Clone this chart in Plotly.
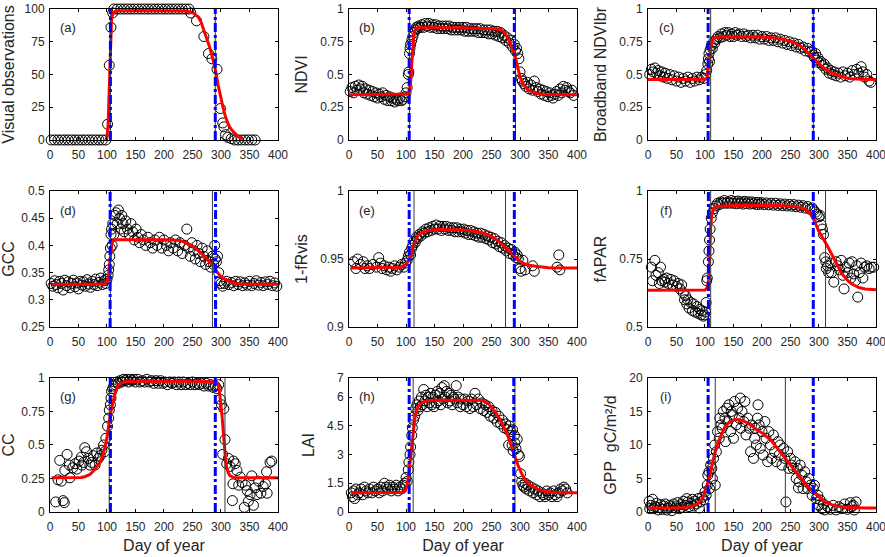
import plotly.graph_objects as go

# ---------------- categories / tick labels ----------------
DAY_TICKS = [0, 50, 100, 150, 200, 250, 300, 350, 400]
PANEL_TAGS = ["(a)", "(b)", "(c)", "(d)", "(e)", "(f)", "(g)", "(h)", "(i)"]
Y_TITLES = ["Visual observations", "NDVI", "Broadband NDVIbr", "GCC", "1-fRvis",
            "fAPAR", "CC", "LAI", "GPP  gC/m²/d"]
Y_RANGES = [[0, 100], [0, 1], [0, 1], [0.25, 0.5], [0.9, 1], [0.5, 1], [0, 1], [0, 7], [0, 20]]
Y_TICKVALS = [[0, 25, 50, 75, 100], [0, 0.25, 0.5, 0.75, 1], [0, 0.25, 0.5, 0.75, 1],
              [0.25, 0.3, 0.35, 0.4, 0.45, 0.5], [0.9, 0.95, 1], [0.5, 0.75, 1],
              [0, 0.25, 0.5, 0.75, 1], [0, 1.5, 3, 4.5, 6, 7], [0, 5, 10, 15, 20]]
Y_TICKTEXT = [["0", "25", "50", "75", "100"], ["0", "0.25", "0.5", "0.75", "1"],
              ["0", "0.25", "0.5", "0.75", "1"], ["0.25", "0.3", "0.35", "0.4", "0.45", "0.5"],
              ["0.9", "0.95", "1"], ["0.5", "0.75", "1"], ["0", "0.25", "0.5", "0.75", "1"],
              ["0", "1.5", "3", "4.5", "6", "7"], ["0", "5", "10", "15", "20"]]

# ---------------- transition dates (day of year) ----------------
BLUE_SOS = [106, 105.5, 105.5, 105.5, 105.5, 106, 106, 105.5, 105.5]
BLUE_EOS = [290, 290, 290, 290.5, 290, 290, 290, 289, 290]
BLACK_SOS = [106, 106, 110, 106, 114, 110, 104, 112.5, 118]
BLACK_EOS = [290, 292, 290, 285, 274.5, 311.5, 307, 291, 241]

# ---------------- observations (day, value) ----------------
a_obs = [(2, 0), (8, 0), (14, 0), (20, 0), (26, 0), (32, 0), (38, 0), (44, 0), (50, 0), (56, 0),
         (62, 0), (68, 0), (74, 0), (80, 0), (86, 0), (92, 0), (98, 0),
         (101, 12), (104, 57), (107, 86), (110, 97),
         (112, 100), (118, 100), (124, 100), (130, 100), (136, 100), (142, 100), (148, 100),
         (154, 100), (160, 100), (166, 100), (172, 100), (178, 100), (184, 100), (190, 100),
         (196, 100), (202, 100), (208, 100), (214, 100), (220, 100), (226, 100), (232, 100),
         (238, 100), (244, 100),
         (247, 97), (257, 91), (270, 79), (278, 66), (284, 62), (293, 54), (299, 24), (303, 13),
         (305, 10), (308, 4), (312, 2), (318, 1), (324, 0), (330, 0), (336, 0), (342, 0),
         (348, 0), (354, 0), (360, 0)]

b_obs = [(2, 0.37), (5, 0.40), (8, 0.36), (11, 0.41), (14, 0.38), (17, 0.42), (20, 0.39), (23, 0.41),
         (26, 0.36), (29, 0.39), (32, 0.35), (35, 0.38), (38, 0.34), (41, 0.37), (44, 0.33), (47, 0.36),
         (50, 0.32), (53, 0.35), (56, 0.33), (59, 0.36), (62, 0.31), (65, 0.34), (68, 0.30), (71, 0.33),
         (74, 0.30), (77, 0.32), (80, 0.29), (83, 0.31), (86, 0.30), (89, 0.32), (92, 0.30), (95, 0.31),
         (98, 0.33), (100, 0.36), (102, 0.40), (104, 0.50), (105, 0.52), (106, 0.66), (107, 0.70),
         (108, 0.73), (110, 0.76), (112, 0.79), (114, 0.82), (116, 0.84), (118, 0.86), (120, 0.85),
         (122, 0.87), (125, 0.86), (128, 0.88), (131, 0.86), (134, 0.89), (137, 0.87), (140, 0.89),
         (143, 0.86), (146, 0.88), (149, 0.86), (152, 0.88), (155, 0.85), (158, 0.87), (161, 0.85),
         (164, 0.87), (167, 0.85), (170, 0.87), (173, 0.85), (176, 0.87), (179, 0.84), (182, 0.86),
         (185, 0.84), (188, 0.86), (191, 0.84), (194, 0.86), (197, 0.84), (200, 0.86), (203, 0.83),
         (206, 0.86), (209, 0.83), (212, 0.85), (215, 0.83), (218, 0.85), (221, 0.83), (224, 0.85),
         (227, 0.82), (230, 0.85), (233, 0.82), (236, 0.84), (239, 0.82), (242, 0.84), (245, 0.81),
         (248, 0.84), (251, 0.81), (254, 0.83), (257, 0.80), (260, 0.83), (263, 0.79), (266, 0.82),
         (269, 0.78), (272, 0.80), (275, 0.76), (278, 0.78), (281, 0.74), (284, 0.76), (287, 0.71),
         (290, 0.73), (292, 0.68), (294, 0.70), (296, 0.66), (298, 0.62), (300, 0.52), (302, 0.47),
         (304, 0.45), (307, 0.43), (310, 0.41), (313, 0.44), (316, 0.39), (319, 0.42), (322, 0.38),
         (325, 0.45), (328, 0.40), (331, 0.37), (334, 0.39), (337, 0.35), (340, 0.38), (343, 0.34),
         (346, 0.37), (349, 0.33), (352, 0.36), (355, 0.34), (358, 0.32), (361, 0.35), (364, 0.37),
         (367, 0.34), (370, 0.39), (373, 0.36), (376, 0.41), (379, 0.38), (382, 0.40), (385, 0.37),
         (388, 0.36), (391, 0.38), (394, 0.34)]

c_obs = [(3, 0.50), (6, 0.54), (9, 0.52), (12, 0.55), (15, 0.51), (18, 0.53), (21, 0.49), (24, 0.52),
         (27, 0.48), (30, 0.51), (34, 0.47), (38, 0.50), (42, 0.46), (46, 0.49), (50, 0.45), (54, 0.48),
         (58, 0.44), (62, 0.47), (66, 0.45), (70, 0.48), (74, 0.44), (78, 0.47), (82, 0.45), (86, 0.48),
         (90, 0.46), (94, 0.48), (98, 0.47), (101, 0.50), (103, 0.53), (105, 0.58), (106, 0.62),
         (107, 0.66), (108, 0.60), (109, 0.69), (111, 0.72), (113, 0.70), (115, 0.75), (117, 0.74),
         (120, 0.77), (123, 0.79), (126, 0.78), (129, 0.81), (132, 0.79), (135, 0.82), (138, 0.80),
         (141, 0.82), (144, 0.79), (147, 0.81), (150, 0.79), (153, 0.82), (156, 0.80), (160, 0.81),
         (164, 0.79), (168, 0.81), (172, 0.79), (176, 0.80), (180, 0.78), (184, 0.80), (188, 0.78),
         (192, 0.80), (196, 0.77), (200, 0.79), (204, 0.77), (208, 0.79), (212, 0.76), (216, 0.78),
         (220, 0.76), (224, 0.78), (228, 0.75), (232, 0.77), (236, 0.74), (240, 0.76), (244, 0.73),
         (248, 0.75), (252, 0.72), (256, 0.74), (260, 0.71), (264, 0.73), (268, 0.70), (272, 0.71),
         (276, 0.68), (280, 0.70), (284, 0.67), (287, 0.68), (290, 0.65), (292, 0.63), (294, 0.66),
         (296, 0.61), (298, 0.63), (300, 0.59), (303, 0.60), (306, 0.57), (309, 0.58), (312, 0.54),
         (315, 0.55), (318, 0.51), (321, 0.53), (324, 0.50), (327, 0.52), (330, 0.49), (334, 0.51),
         (338, 0.48), (342, 0.52), (346, 0.49), (350, 0.51), (354, 0.48), (358, 0.53), (362, 0.50),
         (366, 0.54), (370, 0.51), (374, 0.56), (377, 0.52), (380, 0.48), (384, 0.50), (388, 0.45),
         (391, 0.44)]

d_obs = [(2, 0.330), (5, 0.325), (8, 0.335), (11, 0.328), (14, 0.322), (17, 0.334), (20, 0.330),
         (23, 0.318), (26, 0.336), (29, 0.326), (32, 0.333), (35, 0.322), (38, 0.330), (41, 0.336),
         (44, 0.324), (47, 0.331), (50, 0.320), (53, 0.334), (56, 0.327), (59, 0.333), (62, 0.325),
         (65, 0.337), (68, 0.329), (71, 0.323), (74, 0.334), (77, 0.328), (80, 0.338), (83, 0.326),
         (86, 0.332), (89, 0.340), (92, 0.328), (95, 0.335), (98, 0.330), (100, 0.338), (102, 0.345),
         (103, 0.355), (104, 0.365), (105, 0.380), (106, 0.395), (107, 0.42), (108, 0.43), (109, 0.40),
         (110, 0.44), (112, 0.42), (114, 0.455), (116, 0.46), (118, 0.44), (120, 0.465), (122, 0.45),
         (124, 0.43), (126, 0.455), (128, 0.44), (130, 0.425), (133, 0.445), (136, 0.43), (139, 0.42),
         (142, 0.44), (145, 0.425), (148, 0.41), (151, 0.43), (154, 0.415), (157, 0.405), (160, 0.42),
         (164, 0.41), (168, 0.40), (172, 0.415), (176, 0.405), (180, 0.395), (184, 0.41), (188, 0.40),
         (192, 0.415), (196, 0.395), (200, 0.41), (204, 0.40), (208, 0.39), (212, 0.405), (216, 0.395),
         (220, 0.41), (224, 0.39), (228, 0.405), (232, 0.385), (236, 0.40), (240, 0.43), (243, 0.395),
         (246, 0.38), (249, 0.405), (252, 0.39), (255, 0.375), (258, 0.40), (261, 0.385), (264, 0.37),
         (267, 0.395), (270, 0.38), (273, 0.365), (276, 0.39), (279, 0.37), (282, 0.36), (285, 0.38),
         (287, 0.365), (289, 0.40), (290, 0.375), (292, 0.37), (294, 0.38), (296, 0.35), (298, 0.335),
         (300, 0.33), (303, 0.325), (306, 0.33), (310, 0.334), (314, 0.328), (318, 0.332), (322, 0.326),
         (326, 0.334), (330, 0.328), (334, 0.333), (338, 0.326), (342, 0.331), (346, 0.327),
         (350, 0.334), (354, 0.326), (358, 0.330), (362, 0.335), (366, 0.327), (370, 0.332),
         (374, 0.326), (378, 0.333), (382, 0.328), (386, 0.334), (390, 0.326), (394, 0.331),
         (398, 0.325)]

e_obs = [(8, 0.948), (12, 0.943), (15, 0.950), (20, 0.946), (25, 0.948), (28, 0.943), (32, 0.945),
         (36, 0.943), (42, 0.946), (48, 0.944), (52, 0.951), (55, 0.947), (58, 0.943), (62, 0.945),
         (66, 0.942), (70, 0.944), (73, 0.941), (76, 0.943), (80, 0.945), (84, 0.942), (88, 0.944),
         (92, 0.946), (96, 0.944), (99, 0.947), (102, 0.949), (104, 0.952), (106, 0.955), (108, 0.953),
         (110, 0.958), (112, 0.960), (114, 0.963), (116, 0.962), (118, 0.966), (120, 0.965),
         (123, 0.968), (126, 0.967), (129, 0.970), (132, 0.969), (135, 0.972), (138, 0.970),
         (141, 0.973), (144, 0.971), (147, 0.974), (150, 0.972), (153, 0.975), (156, 0.972),
         (159, 0.974), (162, 0.971), (165, 0.974), (168, 0.972), (171, 0.974), (174, 0.971),
         (177, 0.973), (180, 0.971), (183, 0.973), (186, 0.970), (189, 0.973), (192, 0.970),
         (195, 0.972), (198, 0.970), (201, 0.972), (204, 0.969), (207, 0.971), (210, 0.968),
         (213, 0.971), (216, 0.968), (219, 0.970), (222, 0.967), (225, 0.969), (228, 0.966),
         (231, 0.969), (234, 0.966), (237, 0.968), (240, 0.965), (243, 0.967), (246, 0.964),
         (249, 0.966), (252, 0.962), (255, 0.965), (258, 0.961), (261, 0.963), (264, 0.959),
         (267, 0.962), (270, 0.958), (273, 0.960), (276, 0.956), (279, 0.958), (282, 0.954),
         (285, 0.957), (288, 0.953), (291, 0.955), (293, 0.951), (295, 0.953), (297, 0.950),
         (300, 0.943), (302, 0.941), (305, 0.949), (309, 0.942), (322, 0.945), (325, 0.941),
         (365, 0.944), (368, 0.953), (370, 0.942)]

f_obs = [(6, 0.72), (8, 0.67), (12, 0.745), (14, 0.69), (18, 0.70), (20, 0.66), (22, 0.72), (24, 0.67),
         (28, 0.675), (30, 0.665), (33, 0.68), (36, 0.66), (40, 0.675), (43, 0.655), (46, 0.67),
         (50, 0.65), (53, 0.66), (56, 0.64), (59, 0.655), (62, 0.625), (64, 0.60), (66, 0.615),
         (68, 0.585), (70, 0.60), (72, 0.57), (75, 0.59), (78, 0.56), (80, 0.585), (83, 0.555),
         (86, 0.575), (88, 0.55), (91, 0.565), (93, 0.545), (95, 0.56), (97, 0.54), (99, 0.545),
         (101, 0.555), (102, 0.59), (103, 0.67), (104, 0.68), (106, 0.74), (107, 0.78), (108, 0.82),
         (109, 0.86), (111, 0.90), (113, 0.92), (116, 0.935), (119, 0.945), (122, 0.955), (125, 0.95),
         (128, 0.96), (131, 0.955), (134, 0.965), (137, 0.955), (140, 0.96), (143, 0.955), (146, 0.965),
         (149, 0.955), (152, 0.962), (155, 0.953), (158, 0.963), (161, 0.955), (164, 0.96),
         (167, 0.952), (170, 0.962), (173, 0.954), (176, 0.96), (179, 0.952), (182, 0.96), (185, 0.953),
         (188, 0.958), (191, 0.95), (194, 0.958), (197, 0.951), (200, 0.957), (204, 0.95), (208, 0.956),
         (212, 0.949), (216, 0.955), (220, 0.948), (224, 0.955), (228, 0.947), (232, 0.953),
         (236, 0.946), (240, 0.952), (244, 0.945), (248, 0.951), (252, 0.944), (256, 0.95),
         (260, 0.942), (264, 0.948), (268, 0.94), (272, 0.946), (276, 0.937), (280, 0.943),
         (284, 0.933), (288, 0.938), (291, 0.928), (294, 0.922), (297, 0.915), (300, 0.905),
         (302, 0.91), (304, 0.875), (306, 0.86), (308, 0.84), (310, 0.755), (312, 0.74), (313, 0.715),
         (315, 0.725), (317, 0.70), (320, 0.735), (322, 0.70), (326, 0.665), (330, 0.74), (333, 0.725),
         (336, 0.71), (339, 0.745), (342, 0.69), (344, 0.64), (347, 0.72), (350, 0.70), (353, 0.735),
         (356, 0.68), (358, 0.74), (361, 0.695), (364, 0.67), (366, 0.725), (368, 0.61), (371, 0.70),
         (374, 0.735), (377, 0.68), (380, 0.72), (384, 0.725), (388, 0.715), (392, 0.72), (396, 0.72)]

g_obs = [(10, 0.075), (14, 0.24), (17, 0.385), (20, 0.23), (23, 0.085), (25, 0.07), (26, 0.31),
         (30, 0.43), (34, 0.35), (35, 0.255), (40, 0.33), (44, 0.36), (47, 0.32), (51, 0.38),
         (55, 0.41), (56, 0.35), (59, 0.37), (61, 0.48), (64, 0.45), (67, 0.40), (70, 0.35), (73, 0.37),
         (76, 0.42), (79, 0.35), (82, 0.44), (85, 0.40), (88, 0.42), (91, 0.46), (94, 0.50), (96, 0.45),
         (98, 0.55), (101, 0.64), (103, 0.70), (104, 0.76), (106, 0.80), (107, 0.85), (108, 0.90),
         (110, 0.92), (112, 0.94), (114, 0.95), (117, 0.97), (120, 0.96), (123, 0.98), (126, 0.97),
         (129, 0.99), (132, 0.98), (135, 0.99), (138, 0.97), (141, 0.99), (144, 0.98), (147, 0.99),
         (150, 0.97), (154, 0.99), (158, 0.97), (162, 0.98), (166, 0.97), (170, 0.99), (174, 0.97),
         (178, 0.98), (182, 0.96), (186, 0.98), (190, 0.96), (194, 0.98), (198, 0.96), (202, 0.97),
         (206, 0.95), (210, 0.97), (214, 0.96), (218, 0.97), (222, 0.95), (226, 0.97), (230, 0.95),
         (234, 0.97), (238, 0.95), (242, 0.96), (246, 0.95), (250, 0.97), (254, 0.95), (258, 0.96),
         (262, 0.95), (266, 0.96), (270, 0.94), (274, 0.96), (278, 0.94), (282, 0.95), (286, 0.93),
         (290, 0.94), (293, 0.92), (296, 0.95), (299, 0.84), (301, 0.80), (303, 0.43), (305, 0.77),
         (307, 0.54), (310, 0.36), (313, 0.40), (316, 0.34), (320, 0.085), (321, 0.21), (322, 0.38),
         (325, 0.36), (328, 0.31), (331, 0.20), (334, 0.26), (337, 0.22), (341, 0.035), (343, 0.20),
         (346, 0.16), (348, 0.08), (351, 0.13), (354, 0.27), (357, 0.05), (360, 0.18), (363, 0.13),
         (366, 0.23), (370, 0.14), (374, 0.19), (378, 0.21), (380, 0.30), (381, 0.14), (386, 0.37),
         (389, 0.38)]

h_obs = [(4, 1.0), (6, 0.8), (8, 1.1), (10, 0.7), (12, 1.2), (15, 0.9), (18, 1.0), (21, 1.2), (24, 0.9),
         (27, 1.3), (30, 1.1), (33, 1.0), (36, 1.2), (40, 1.0), (43, 1.3), (46, 1.1), (50, 1.2),
         (53, 1.0), (56, 1.3), (59, 1.1), (62, 1.5), (65, 1.3), (68, 1.2), (71, 1.4), (74, 1.1),
         (77, 1.3), (80, 1.2), (83, 1.4), (86, 1.1), (89, 1.3), (92, 1.2), (95, 1.4), (98, 1.5),
         (100, 1.8), (102, 1.6), (104, 2.2), (105, 2.6), (107, 3.0), (108, 3.4), (110, 4.0), (111, 4.4),
         (113, 4.8), (115, 5.0), (117, 5.4), (119, 5.6), (121, 5.3), (123, 5.8), (125, 5.5), (127, 6.0),
         (129, 5.6), (131, 6.4), (133, 5.8), (135, 6.1), (137, 5.5), (139, 6.0), (141, 5.7), (143, 6.2),
         (145, 5.6), (147, 6.0), (149, 5.5), (151, 6.1), (153, 5.7), (155, 6.3), (157, 5.8), (159, 6.2),
         (161, 5.6), (163, 6.5), (165, 5.9), (167, 6.6), (169, 6.0), (171, 6.3), (173, 5.7), (175, 6.2),
         (177, 5.8), (179, 6.1), (181, 5.6), (183, 6.0), (185, 5.9), (188, 6.6), (190, 5.7), (192, 6.0),
         (195, 5.5), (197, 5.9), (200, 5.6), (203, 5.9), (206, 5.5), (209, 5.8), (212, 5.4), (215, 5.9),
         (218, 5.5), (221, 6.2), (224, 5.6), (227, 5.9), (230, 5.4), (233, 5.7), (236, 5.3), (239, 5.6),
         (242, 5.2), (245, 5.5), (248, 5.0), (251, 5.3), (254, 4.9), (257, 5.2), (260, 4.7), (263, 5.0),
         (266, 4.6), (269, 4.8), (272, 4.4), (275, 4.6), (278, 4.3), (280, 3.5), (281, 4.5), (284, 4.2),
         (286, 3.5), (287, 4.3), (288, 3.2), (290, 4.0), (291, 3.6), (293, 3.3), (295, 3.8), (297, 3.0),
         (299, 2.9), (301, 2.0), (303, 1.6), (305, 1.4), (307, 1.3), (309, 1.5), (311, 1.2), (314, 1.4),
         (317, 1.1), (320, 1.3), (323, 1.0), (326, 1.2), (329, 0.9), (332, 1.1), (335, 0.8), (338, 1.0),
         (341, 0.9), (344, 0.8), (347, 1.1), (350, 0.9), (353, 1.0), (356, 0.8), (359, 1.1), (362, 0.9),
         (365, 0.8), (368, 1.0), (371, 1.2), (374, 1.1), (377, 1.3), (380, 1.2), (383, 1.0)]

i_obs = [(2, 1.6), (3, 0.5), (5, 1.0), (8, 1.9), (10, 0.5), (12, 0.8), (15, 1.3), (18, 0.3), (20, 0.7),
         (22, 1.1), (25, 0.4), (28, 0.9), (30, 1.2), (33, 0.3), (35, 0.6), (38, 1.0), (40, 0.8),
         (42, 0.2), (45, 1.2), (48, 0.6), (50, 0.9), (52, 1.4), (55, 0.5), (58, 1.1), (60, 0.7),
         (62, 1.6), (65, 1.0), (68, 2.0), (70, 1.5), (72, 0.8), (75, 1.3), (78, 1.9), (80, 0.9),
         (82, 1.6), (85, 1.2), (88, 2.0), (90, 0.6), (92, 1.5), (95, 2.2), (98, 1.8), (100, 3.0),
         (102, 2.5), (104, 4.0), (105, 5.5), (107, 6.0), (108, 3.5), (110, 7.0), (112, 6.5), (113, 5.0),
         (115, 8.0), (117, 10.0), (118, 4.0), (120, 9.0), (122, 12.0), (125, 11.0), (126, 14.0),
         (128, 13.0), (130, 12.5), (132, 15.0), (135, 14.0), (136, 10.5), (138, 15.5), (140, 13.5),
         (142, 16.0), (145, 12.0), (146, 15.0), (148, 14.5), (150, 11.0), (152, 16.5), (155, 13.0),
         (157, 15.5), (160, 14.0), (162, 17.0), (163, 12.5), (165, 15.0), (168, 13.5), (170, 16.5),
         (172, 11.5), (175, 14.0), (178, 12.5), (180, 9.0), (182, 13.0), (185, 8.0), (187, 11.0),
         (188, 12.5), (190, 10.0), (192, 14.0), (193, 16.0), (195, 13.0), (197, 9.5), (200, 12.0),
         (202, 8.5), (205, 13.5), (207, 11.0), (210, 7.5), (212, 12.0), (215, 10.0), (217, 8.0),
         (220, 11.5), (222, 9.0), (225, 7.5), (228, 10.5), (230, 8.5), (232, 10.0), (235, 7.0),
         (238, 9.5), (240, 8.0), (242, 1.5), (245, 9.0), (247, 6.5), (250, 8.0), (252, 7.0), (255, 6.5),
         (258, 7.5), (260, 5.0), (262, 6.5), (264, 3.6), (265, 4.5), (267, 7.0), (270, 5.5), (272, 3.5),
         (275, 6.0), (278, 4.5), (280, 3.5), (282, 5.0), (285, 4.0), (288, 2.5), (290, 3.5), (292, 4.0),
         (295, 2.0), (298, 2.5), (300, 1.0), (302, 1.8), (305, 0.5), (308, 1.2), (310, 0.3), (315, 0.8),
         (320, 0.4), (325, 1.0), (330, 0.3), (335, 0.8), (340, 0.5), (345, 1.2), (350, 0.4), (355, 1.4),
         (358, 0.8), (360, 1.0), (362, 0.3), (365, 1.5)]

# ---------------- fitted curves (day, value) ----------------
a_fit = [(98, 0), (100, 2), (102, 12), (104, 45), (106, 80), (108, 93), (111, 97.5), (116, 98.5),
         (150, 98.8), (200, 98.8), (240, 98.5), (250, 97.5), (255, 96), (260, 94), (265, 90), (270, 84),
         (275, 77), (280, 71), (285, 63), (290, 54), (295, 42), (300, 31), (305, 22), (310, 15),
         (315, 10), (320, 7), (325, 4.5), (330, 2.8), (335, 1.5), (338, 1)]
b_fit = [(0, 0.346), (100, 0.347), (104, 0.352), (106, 0.38), (108, 0.44), (110, 0.58), (112, 0.73),
         (114, 0.82), (117, 0.85), (122, 0.857), (200, 0.857), (255, 0.853), (262, 0.848), (268, 0.838),
         (274, 0.815), (280, 0.765), (285, 0.72), (289, 0.675), (292, 0.63), (295, 0.575), (300, 0.48),
         (305, 0.43), (310, 0.40), (315, 0.38), (321, 0.365), (330, 0.355), (345, 0.348), (400, 0.346)]
c_fit = [(0, 0.462), (100, 0.463), (103, 0.47), (105, 0.52), (107, 0.57), (108, 0.62), (110, 0.70),
         (112, 0.75), (115, 0.775), (120, 0.786), (130, 0.789), (200, 0.787), (220, 0.78), (240, 0.765),
         (255, 0.745), (265, 0.724), (275, 0.69), (283, 0.66), (290, 0.628), (298, 0.593), (306, 0.56),
         (316, 0.528), (325, 0.508), (334, 0.492), (345, 0.477), (357, 0.468), (375, 0.463), (400, 0.462)]
d_fit = [(3, 0.328), (95, 0.329), (100, 0.333), (103, 0.348), (105, 0.37), (107, 0.392), (109, 0.405),
         (112, 0.41), (120, 0.4105), (200, 0.4105), (228, 0.409), (240, 0.404), (252, 0.397),
         (262, 0.389), (270, 0.381), (278, 0.372), (285, 0.364), (293, 0.351), (300, 0.343),
         (305, 0.339), (312, 0.335), (322, 0.3315), (335, 0.329), (350, 0.3284), (400, 0.3284)]
e_fit = [(3, 0.9434), (80, 0.9436), (90, 0.944), (98, 0.9453), (102, 0.947), (106, 0.950), (109, 0.955),
         (113, 0.960), (117, 0.964), (121, 0.9674), (127, 0.969), (133, 0.9703), (145, 0.9712),
         (157, 0.9716), (185, 0.9715), (209, 0.9711), (225, 0.970), (239, 0.9686), (248, 0.967),
         (256, 0.965), (265, 0.962), (274, 0.9588), (282, 0.9555), (290, 0.952), (296, 0.9495),
         (303, 0.9474), (312, 0.9458), (327, 0.9446), (350, 0.9436), (400, 0.9434)]
f_fit = [(0, 0.635), (100, 0.636), (104, 0.645), (106, 0.67), (107, 0.70), (108, 0.76), (109, 0.82),
         (110, 0.87), (112, 0.915), (115, 0.935), (120, 0.943), (150, 0.947), (240, 0.946), (260, 0.942),
         (270, 0.937), (278, 0.93), (285, 0.915), (292, 0.89), (299, 0.855), (305, 0.835), (310, 0.815),
         (318, 0.785), (325, 0.757), (332, 0.725), (340, 0.696), (350, 0.672), (357, 0.659),
         (370, 0.645), (381, 0.64), (400, 0.637)]
g_fit = [(3, 0.255), (55, 0.258), (62, 0.265), (70, 0.28), (77, 0.31), (83, 0.34), (88, 0.37),
         (93, 0.43), (97, 0.49), (100, 0.56), (103, 0.65), (106, 0.73), (109, 0.79), (112, 0.85),
         (115, 0.90), (119, 0.94), (124, 0.96), (132, 0.972), (150, 0.975), (250, 0.975), (285, 0.974),
         (292, 0.97), (296, 0.95), (299, 0.85), (302, 0.71), (304, 0.60), (306, 0.47), (308, 0.39),
         (310, 0.33), (313, 0.29), (316, 0.27), (322, 0.258), (340, 0.255), (400, 0.255)]
h_fit = [(3, 1.0), (85, 1.0), (92, 1.02), (98, 1.08), (101, 1.3), (104, 1.78), (107, 2.6), (110, 3.7),
         (113, 4.4), (115.5, 4.9), (118, 5.25), (121, 5.5), (127, 5.7), (133, 5.78), (145, 5.84),
         (233, 5.84), (245, 5.65), (256, 5.26), (264, 4.88), (271, 4.48), (277, 4.1), (283, 3.6),
         (290, 3.0), (297, 2.39), (303, 2.0), (309, 1.69), (318, 1.42), (327, 1.25), (338, 1.12),
         (350, 1.05), (370, 1.01), (400, 1.0)]
i_fit = [(3, 0.6), (40, 0.6), (60, 0.65), (75, 0.8), (88, 1.25), (95, 2.0), (100, 3.0), (104, 4.2),
         (108, 5.2), (112, 6.8), (117, 8.7), (123, 10.4), (129, 11.7), (135, 12.7), (140, 13.2),
         (150, 13.7), (158, 13.8), (170, 13.5), (180, 13.0), (190, 12.3), (200, 11.8), (210, 11.1),
         (217, 10.6), (228, 9.4), (240, 8.1), (252, 6.8), (264, 5.4), (277, 4.1), (290, 3.0),
         (300, 2.2), (310, 1.5), (322, 1.1), (334, 0.85), (346, 0.72), (357, 0.65), (380, 0.6),
         (400, 0.6)]

OBS = [a_obs, b_obs, c_obs, d_obs, e_obs, f_obs, g_obs, h_obs, i_obs]
FIT = [a_fit, b_fit, c_fit, d_fit, e_fit, f_fit, g_fit, h_fit, i_fit]

# ---------------- layout geometry ----------------
X_DOMAINS = [[0.0565, 0.3141], [0.3944, 0.6520], [0.7322, 0.9898]]
Y_DOMAINS = [[0.7487, 0.9838], [0.4129, 0.6571], [0.0808, 0.3214]]
FONT = "Liberation Sans, Arial, sans-serif"
TXT = "#262626"

fig = go.Figure()
layout = dict(width=885, height=557, margin=dict(l=0, r=0, t=0, b=0, autoexpand=False),
              paper_bgcolor="white", plot_bgcolor="white", showlegend=False,
              font=dict(family=FONT, size=12, color=TXT), annotations=[])

for k in range(9):
    r, c = divmod(k, 3)
    xa = "x" if k == 0 else f"x{k + 1}"
    ya = "y" if k == 0 else f"y{k + 1}"
    lo, hi = Y_RANGES[k]

    ox = [p[0] for p in OBS[k]]
    oy = [p[1] for p in OBS[k]]
    fig.add_trace(go.Scatter(x=ox, y=oy, mode="markers", xaxis=xa, yaxis=ya, cliponaxis=False,
                             marker=dict(symbol="circle-open", size=10, color="black",
                                         line=dict(width=1)), hoverinfo="skip"))
    fx = [p[0] for p in FIT[k]]
    fy = [p[1] for p in FIT[k]]
    fig.add_trace(go.Scatter(x=fx, y=fy, mode="lines", xaxis=xa, yaxis=ya,
                             line=dict(color="#ff0000", width=3), hoverinfo="skip"))
    bx = [BLACK_SOS[k], BLACK_SOS[k], None, BLACK_EOS[k], BLACK_EOS[k]]
    fig.add_trace(go.Scatter(x=bx, y=[lo, hi, None, lo, hi], mode="lines", xaxis=xa, yaxis=ya,
                             line=dict(color="#3a3a3a", width=1), hoverinfo="skip"))
    vx = [BLUE_SOS[k], BLUE_SOS[k], None, BLUE_EOS[k], BLUE_EOS[k]]
    fig.add_trace(go.Scatter(x=vx, y=[lo, hi, None, lo, hi], mode="lines", xaxis=xa, yaxis=ya,
                             line=dict(color="#0000ff", width=3, dash="dashdot"), hoverinfo="skip"))

    axis_common = dict(showline=True, linecolor="black", linewidth=1, mirror="allticks",
                       ticks="inside", ticklen=3, tickcolor="black", showgrid=False,
                       zeroline=False, automargin=False, ticklabeloverflow="allow",
                       tickfont=dict(family=FONT, size=12, color=TXT))
    xkey = "xaxis" if k == 0 else f"xaxis{k + 1}"
    ykey = "yaxis" if k == 0 else f"yaxis{k + 1}"
    xd = dict(axis_common, domain=X_DOMAINS[c], range=[0, 400], tickvals=DAY_TICKS,
              anchor=ya, ticklabelstandoff=4)
    if r == 2:
        xd["title"] = dict(text="Day of year", font=dict(family=FONT, size=16, color=TXT),
                           standoff=6)
    layout[xkey] = xd
    layout[ykey] = dict(axis_common, domain=Y_DOMAINS[r], range=[lo, hi],
                        tickvals=Y_TICKVALS[k], ticktext=Y_TICKTEXT[k], anchor=xa,
                        ticklabelstandoff=2,
                        title=dict(text=Y_TITLES[k], font=dict(family=FONT, size=16, color=TXT),
                                   standoff=8))
    layout["annotations"].append(dict(text=PANEL_TAGS[k], xref=f"{xa} domain", yref=f"{ya} domain",
                                      x=0.08, y=0.86, xanchor="center", yanchor="middle",
                                      showarrow=False, font=dict(family=FONT, size=13, color=TXT)))

fig.update_layout(**layout)
fig.write_html("out.html", config={"displayModeBar": False},
               post_script="document.body.style.margin='0';document.body.style.overflow='hidden';")
